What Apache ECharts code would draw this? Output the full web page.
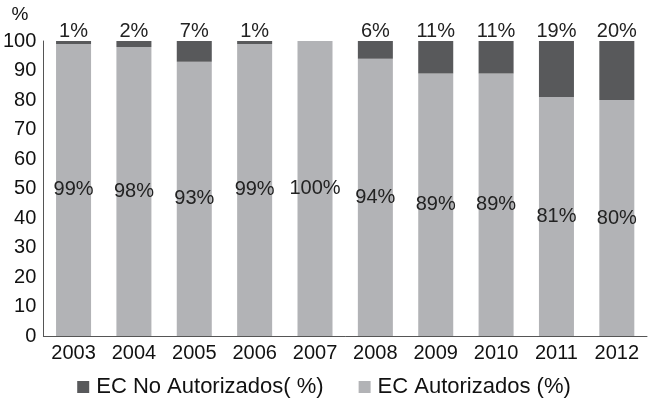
<!DOCTYPE html>
<html>
<head>
<meta charset="utf-8">
<script src="https://cdn.jsdelivr.net/npm/echarts@6/dist/echarts.min.js"></script>
<style>
html,body{margin:0;padding:0;background:#fff;}
#chart{width:648px;height:401px;}
</style>
</head>
<body>
<div id="chart"></div>
<script>
// Yearly share of EC, authorised vs. not authorised (%)
const years = ['2003','2004','2005','2006','2007','2008','2009','2010','2011','2012'];
const autorizados = [99, 98, 93, 99, 100, 94, 89, 89, 81, 80];
const noAutorizados = [1, 2, 7, 1, 0, 6, 11, 11, 19, 20];
const yTicks = { min: 0, max: 100, interval: 10 };
const seriesNames = ['EC No Autorizados( %)', 'EC Autorizados (%)'];

const font = 'Liberation Sans, Arial, sans-serif';
const chart = echarts.init(document.getElementById('chart'));
chart.setOption({
  animation: false,
  textStyle: { fontFamily: font },
  grid: { left: 43, right: 1, top: 41, bottom: 65, containLabel: false },
  legend: {
    bottom: 0,
    left: 'center',
    padding: [5, 5, 3, 5],
    itemWidth: 12,
    itemHeight: 12,
    itemGap: 35,
    icon: 'rect',
    textStyle: { fontSize: 22, color: '#111', fontFamily: font, padding: [0, 0, 0, 2] },
    data: seriesNames
  },
  xAxis: {
    type: 'category',
    data: years,
    axisLine: { lineStyle: { color: '#555', width: 1 } },
    axisTick: { show: false },
    axisLabel: { fontSize: 20, color: '#111', margin: 7, fontFamily: font }
  },
  yAxis: {
    type: 'value',
    min: yTicks.min,
    max: yTicks.max,
    interval: yTicks.interval,
    name: '%',
    nameLocation: 'end',
    nameGap: 17,
    nameTextStyle: { fontSize: 19, color: '#111', align: 'right', padding: [0, 15, 0, 0] },
    splitLine: { show: false },
    axisLine: { show: true, lineStyle: { color: '#555', width: 1 } },
    axisTick: { show: false },
    axisLabel: { fontSize: 20, color: '#111', margin: 7, fontFamily: font }
  },
  series: [
    {
      name: seriesNames[1],
      type: 'bar',
      stack: 'total',
      barWidth: '58%',
      data: autorizados,
      itemStyle: { color: '#b2b3b6' },
      label: {
        show: true,
        position: 'inside',
        fontSize: 20,
        color: '#222',
        fontFamily: font,
        formatter: p => p.value + '%'
      }
    },
    {
      name: seriesNames[0],
      type: 'bar',
      stack: 'total',
      barWidth: '58%',
      data: noAutorizados,
      itemStyle: { color: '#58595b' },
      label: {
        show: true,
        position: 'top',
        distance: 0,
        fontSize: 20,
        color: '#222',
        fontFamily: font,
        formatter: p => (p.value > 0 ? p.value + '%' : '')
      }
    }
  ]
});
</script>
</body>
</html>
